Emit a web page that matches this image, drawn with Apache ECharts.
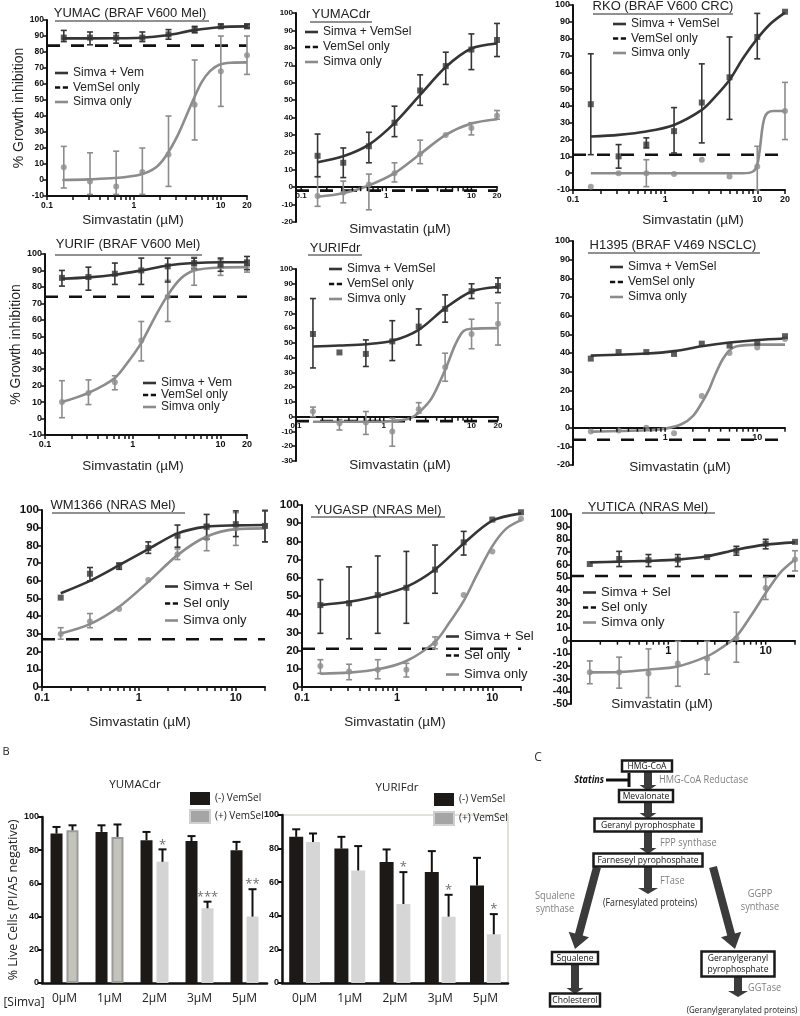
<!DOCTYPE html>
<html>
<head>
<meta charset="utf-8">
<title>Simvastatin dose response</title>
<script src="https://cdn.jsdelivr.net/npm/echarts@6.0.0/dist/echarts.min.js"></script>
<style>
  html, body { margin: 0; padding: 0; background: #fff; }
  #chart { width: 800px; height: 1016px; }
</style>
</head>
<body>
<div id="chart"></div>
<script>
const lg = Math.log10

// doses used in every dose-response panel (µM)
const doses = [0.156, 0.3125, 0.625, 1.25, 2.5, 5, 10, 20]

// points are [mean, low, high]; fits are [dose, value]
const yumacCombo = [[89, 86.5, 93.5], [89, 84.5, 92.5], [89, 85.5, 92], [89, 86.5, 92.5], [91, 88, 94], [94, 92, 96], [96, 95, 97.5], [96, 95, 97.5]]
const yumacSimva = [[8, -5, 21], [-1, -9, 17], [-4, -9, 18], [5, -9, 20], [16, -4, 40], [47, 25, 75], [68, 46, 90], [78, 66, 90]]
const yumacComboFit = [[0.15, 88.5], [0.6, 88.6], [1.2, 88.9], [2.4, 90.5], [4.8, 93.5], [9.6, 95.5], [20, 96]]
const yumacSimvaFit = [[0.15, 0], [0.3, 0.4], [0.6, 1.2], [1.2, 3.5], [1.8, 8], [2.4, 16], [3.2, 28], [4, 40], [4.8, 50], [6, 61], [7.5, 68], [9.6, 72], [13, 73.3], [20, 73.5]]
const yumacDrugOnly = 84

const yumacdrCombo = [[18, 6, 30.5], [14, 5.5, 22.5], [23.5, 14, 31.5], [37, 29, 46.5], [55.5, 47, 64.5], [69.5, 59, 77.5], [79, 67.5, 88], [84.5, 75, 94]]
const yumacdrSimva = [[-5, -11, 6], [-3, -9, 3.5], [1.5, -13, 7.5], [8, 3, 14], [19, 13.5, 27], [30, 30, 30], [34, 30, 37], [41, 39, 44]]
const yumacdrComboFit = [[0.156, 14.3], [0.3125, 17.7], [0.625, 24.4], [1.25, 36.8], [2.5, 53], [5, 69], [10, 79.6], [20, 82.5]]
const yumacdrSimvaFit = [[0.156, -5.5], [0.3125, -3.5], [0.625, 1], [1.25, 8], [2.5, 19], [5, 30], [10, 36.5], [20, 39]]
const yumacdrDrugOnly = -2

const rkoCombo = [[41, 11, 71], [10, 3, 17], [17, 15, 21], [25, 12, 39], [42, 18, 65], [57, 32, 81], [81, 68, 95], [96, 96, 96]]
const rkoSimva = [[-8, -8, -8], [0, 0, 0], [0, -8, 8], [-0.5, -0.5, -0.5], [8, 8, 8], [-2, -2, -2], [4, -10, 16], [37, 20, 54]]
const rkoComboFit = [[0.156, 21.8], [0.3125, 22.8], [0.625, 24.8], [1.25, 28.7], [2.5, 37.6], [3.5, 45.5], [5, 55.4], [7, 68.3], [10, 80], [14, 89], [20, 95.5]]
const rkoSimvaFit = [[0.156, 0], [0.5, 0], [1.5, 0], [4, 0], [7, 0], [9, 1], [10, 5], [10.7, 15], [11.3, 26], [12, 33], [13, 36], [15, 37], [20, 37]]
const rkoDrugOnly = 11

const yurifCombo = [[85.5, 80.5, 90], [86, 78, 92], [88, 81.5, 94.5], [90, 81.5, 97.5], [92.5, 83, 97.5], [94.5, 91, 97.5], [93.5, 89.5, 97.5], [94.5, 90.5, 98.5]]
const yurifSimva = [[10, 0.5, 23], [15.5, 8.5, 23.5], [22, 17.5, 26], [47.5, 35, 59], [74, 59, 84], [92, 81, 98], [92.5, 87, 96.5], [92.5, 89, 96.5]]
const yurifComboFit = [[0.156, 85], [0.3125, 85.8], [0.625, 87.4], [1.25, 90], [2.5, 93], [5, 94.5], [10, 95], [20, 95]]
const yurifSimvaFit = [[0.156, 10], [0.3125, 15.6], [0.625, 24.7], [0.9, 35], [1.25, 46], [1.8, 62], [2.5, 75], [3.5, 85], [5, 90], [10, 91.8], [20, 92]]
const yurifDrugOnly = 74

const yurifdrCombo = [[56, 33, 80], [43.5, 43.5, 43.5], [42.5, 34, 52], [51, 38, 65], [61, 48.5, 73], [73, 64, 82.5], [85, 80, 90], [88.5, 84, 94]]
const yurifdrSimva = [[3.5, 0, 6.5], [-4.5, -9, -2], [-4, -12, 3.5], [-10, -20, -1], [5, 2.5, 9.5], [33.5, 24, 43], [56, 46, 66], [63, 48.5, 77]]
const yurifdrComboFit = [[0.156, 47.5], [0.3125, 48.2], [0.625, 49], [1.25, 51.4], [2.5, 58.8], [5, 73.5], [10, 84.8], [20, 87.8]]
const yurifdrSimvaFit = [[0.156, -3.4], [0.625, -3.4], [1.25, -3], [2, -1], [2.5, 2.7], [3.5, 12.4], [5, 31.7], [6.5, 48.6], [8, 57.7], [10, 59.5], [20, 60]]
const yurifdrDrugOnly = -3

const h1395Combo = [[37, 37, 37], [40.5, 40.5, 40.5], [40.5, 40.5, 40.5], [39.5, 39.5, 39.5], [45, 45, 45], [44, 44, 44], [45.5, 45.5, 45.5], [49, 49, 49]]
const h1395Simva = [[-2, -2, -2], [-1.5, -1.5, -1.5], [0, 0, 0], [-3, -3, -3], [17, 17, 17], [40, 40, 40], [43, 43, 43], [47.5, 47.5, 47.5]]
const h1395ComboFit = [[0.156, 38.6], [0.625, 39.7], [1.25, 41], [2.5, 43.6], [5, 45.6], [10, 47], [20, 47.8]]
const h1395SimvaFit = [[0.156, -2.1], [0.625, -1.4], [1, -0.5], [1.5, 1.8], [2, 6.2], [2.5, 13.3], [3, 20.5], [3.5, 28.5], [4.2, 36.5], [5, 41.5], [6, 43.6], [10, 44.5], [20, 44.5]]
const h1395DrugOnly = -6.5

const wm1366Combo = [[50.5, 50.5, 50.5], [64, 60, 67.5], [68.5, 66.5, 70], [78.5, 75.5, 82], [85.5, 79, 91.5], [90.5, 83.5, 97.5], [92, 85, 99.5], [91, 82, 99.5]]
const wm1366Simva = [[30, 27, 33.5], [37, 33.5, 41.5], [44, 44, 44], [60.5, 60.5, 60.5], [75, 72, 78], [84, 77, 92], [89.5, 80, 98.5], [91, 82, 100]]
const wm1366ComboFit = [[0.156, 53], [0.3125, 60], [0.625, 68.8], [1.25, 77.9], [2.5, 86.8], [5, 90.6], [10, 91.3], [20, 91.5]]
const wm1366SimvaFit = [[0.156, 30.2], [0.3125, 35.5], [0.625, 45.3], [1.25, 59.4], [2.5, 74.5], [5, 85], [10, 89.2], [20, 89.6]]
const wm1366DrugOnly = 27

const yugaspCombo = [[45, 29.5, 59], [46, 26.5, 66], [50.5, 29.5, 72], [54.5, 35, 74.5], [64.5, 51.5, 78], [79.5, 72.5, 85.5], [92, 92, 92], [96, 96, 96]]
const yugaspSimva = [[11.5, 7.5, 15], [8.5, 4, 12.5], [9.5, 4.5, 15], [9.5, 5.5, 13], [24, 21, 27.5], [50.5, 50.5, 50.5], [74.5, 74.5, 74.5], [92.5, 92.5, 92.5]]
const yugaspComboFit = [[0.156, 45], [0.3125, 46.8], [0.625, 50], [1.25, 55], [2.5, 64.6], [5, 78.9], [10, 91.4], [20, 95.4]]
const yugaspSimvaFit = [[0.156, 7.3], [0.3125, 7.9], [0.625, 9.7], [1.25, 14.3], [2.5, 24.8], [3.5, 35], [5, 47.3], [7, 62.4], [10, 77.4], [14, 87], [20, 91.7]]
const yugaspDrugOnly = 21

const yuticaCombo = [[60.5, 60.5, 60.5], [64.5, 58.5, 70.5], [63.5, 58.5, 68], [64, 58.5, 68], [66, 66, 66], [71, 67.5, 74.5], [76.5, 72.5, 80], [78, 78, 78]]
const yuticaSimva = [[-25, -34, -16], [-25, -37.5, -13], [-26, -45, -6.5], [-18, -36, -0.5], [-14, -26.5, -0.5], [2, -17, 22.5], [41.5, 32.5, 50], [64, 55, 71]]
const yuticaComboFit = [[0.156, 61.8], [0.3125, 62.4], [0.625, 63], [1.25, 64], [2.5, 66.6], [5, 71.8], [10, 75.8], [20, 77.6]]
const yuticaSimvaFit = [[0.156, -25], [0.3125, -24.7], [0.625, -22.9], [1.25, -20.3], [2.5, -12.4], [3.5, -5.8], [5, 3.4], [7, 19.2], [10, 37.6], [14, 53.4], [20, 64]]
const yuticaDrugOnly = 51

// panel B: % live cells
const simvaDoses = ['0µM', '1µM', '2µM', '3µM', '5µM']
const yumacdrMinus = [90, 91, 86, 85.5, 80]
const yumacdrMinusErr = [4, 4, 5, 3, 5]
const yumacdrPlus = [92, 88, 73, 45, 40]
const yumacdrPlusErr = [3, 7.5, 7.5, 4, 16.5]
const yumacdrSig = ['', '', '*', '***', '**']
const yurifdrMinus = [87, 80, 72, 66, 58]
const yurifdrMinusErr = [4.5, 7, 7.5, 12.5, 16.5]
const yurifdrPlus = [84, 67, 47, 39.5, 29]
const yurifdrPlusErr = [5, 14.5, 19, 13, 12]
const yurifdrSig = ['', '', '*', '*', '*']

// ---------- styling ----------
const FONT = "'Liberation Sans', Arial, sans-serif"
const SANS = "'Open Sans', 'DejaVu Sans', sans-serif"
const INK = '#111'
const DARK = '#353535'
const GREY = '#8c8c8c'
const SOLID_ICON = 'path://M0,0H20V4H0Z'
const DASH_ICON = 'path://M0,0H8V4H0ZM12,0H20V4H12Z'
const NAME = 'Simvastatin (µM)'

const panels = [
  { title: 'YUMAC (BRAF V600 Mel)', t: [130, 13], ul: [55, 209, 21], rect: [47, 20, 200, 176], xMin: 0.1, yMin: -10, onZero: false,
    xLabels: [0.1, 1, 10, 20], xFont: 8.5, yFont: 8.5, xName: [133, 220], yName: '% Growth inhibition',
    names: ['Simva + Vem', 'VemSel only', 'Simva only'], leg: [55, 67, 2.5, 12],
    combo: yumacCombo, simva: yumacSimva, comboFit: yumacComboFit, simvaFit: yumacSimvaFit, drugOnly: yumacDrugOnly },
  { title: 'YUMACdr', t: [341, 14], ul: [310, 372, 22], rect: [296, 13, 201, 209], xMin: 0.087, yMin: -20, onZero: true,
    xLabels: [0.1, 1, 10, 20], xFont: 8, yFont: 8, xName: [400, 229],
    names: ['Simva + VemSel', 'VemSel only', 'Simva only'], leg: [305, 26, 3, 12],
    combo: yumacdrCombo, simva: yumacdrSimva, comboFit: yumacdrComboFit, simvaFit: yumacdrSimvaFit, drugOnly: yumacdrDrugOnly },
  { title: 'RKO (BRAF V600 CRC)', t: [663, 6], ul: [593, 733, 14], rect: [573, 5, 212, 185], xMin: 0.1, yMin: -10, onZero: false,
    xLabels: [0.1, 1, 10, 20], xFont: 9, yFont: 9, xName: [693, 220],
    names: ['Simva + VemSel', 'VemSel only', 'Simva only'], leg: [613, 18, 2.5, 12],
    combo: rkoCombo, simva: rkoSimva, comboFit: rkoComboFit, simvaFit: rkoSimvaFit, drugOnly: rkoDrugOnly },
  { title: 'YURIF (BRAF V600 Mel)', t: [128, 244], ul: [55, 202, 255], rect: [45, 254, 202, 181], xMin: 0.1, yMin: -10, onZero: false,
    xLabels: [0.1, 1, 10, 20], xFont: 9, yFont: 9, xName: [133, 466], yName: '% Growth inhibition',
    names: ['Simva + Vem', 'VemSel only', 'Simva only'], leg: [143, 377, 0, 12],
    combo: yurifCombo, simva: yurifSimva, comboFit: yurifComboFit, simvaFit: yurifSimvaFit, drugOnly: yurifDrugOnly },
  { title: 'YURIFdr', t: [335, 248], ul: [308, 362, 255], rect: [296, 269, 202, 192], xMin: 0.1, yMin: -30, onZero: true,
    xLabels: [0.1, 1, 10, 20], xFont: 8, yFont: 8, xName: [400, 465],
    names: ['Simva + VemSel', 'VemSel only', 'Simva only'], leg: [329, 263, 3, 12],
    combo: yurifdrCombo, simva: yurifdrSimva, comboFit: yurifdrComboFit, simvaFit: yurifdrSimvaFit, drugOnly: yurifdrDrugOnly },
  { title: 'H1395 (BRAF V469 NSCLC)', t: [673, 245], ul: [588, 760, 253], rect: [573, 241, 212, 224], xMin: 0.1, yMin: -20, onZero: true,
    xLabels: [1, 10], xFont: 9, yFont: 9, xName: [680, 467],
    names: ['Simva + VemSel', 'VemSel only', 'Simva only'], leg: [610, 261, 3, 12],
    combo: h1395Combo, simva: h1395Simva, comboFit: h1395ComboFit, simvaFit: h1395SimvaFit, drugOnly: h1395DrugOnly },
  { title: 'WM1366 (NRAS Mel)', t: [113, 505], ul: [52, 185, 513], rect: [42, 510, 223, 177], xMin: 0.1, yMin: 0, onZero: false,
    xLabels: [0.1, 1, 10], xFont: 11, yFont: 11.5, xName: [140, 722],
    names: ['Simva + Sel', 'Sel only', 'Simva only'], leg: [165, 580, 4, 13],
    combo: wm1366Combo, simva: wm1366Simva, comboFit: wm1366ComboFit, simvaFit: wm1366SimvaFit, drugOnly: wm1366DrugOnly },
  { title: 'YUGASP (NRAS Mel)', t: [378, 510], ul: [311, 445, 517], rect: [302, 505, 219, 182], xMin: 0.1, yMin: 0, onZero: false,
    xLabels: [0.1, 1, 10], xFont: 11, yFont: 11.5, xName: [395, 722],
    names: ['Simva + Sel', 'Sel only', 'Simva only'], leg: [446, 630, 6, 13],
    combo: yugaspCombo, simva: yugaspSimva, comboFit: yugaspComboFit, simvaFit: yugaspSimvaFit, drugOnly: yugaspDrugOnly },
  { title: 'YUTICA (NRAS Mel)', t: [648, 507], ul: [582, 715, 513], rect: [571, 514, 224, 190], xMin: 0.1, yMin: -50, onZero: true,
    xLabels: [1, 10], xFont: 11, yFont: 10.5, xName: [662, 704],
    names: ['Simva + Sel', 'Sel only', 'Simva only'], leg: [583, 586, 2, 13],
    combo: yuticaCombo, simva: yuticaSimva, comboFit: yuticaComboFit, simvaFit: yuticaSimvaFit, drugOnly: yuticaDrugOnly }
]

const barPanels = [
  { title: 'YUMACdr', t: [135, 785], rect: [42, 817, 225, 166], barW: 12, gap: '33%', off: 8, framed: false,
    yName: '% Live Cells (PI/A5 negative)', leg: [189, 792, 4],
    minus: yumacdrMinus, minusErr: yumacdrMinusErr, plus: yumacdrPlus, plusErr: yumacdrPlusErr, sig: yumacdrSig,
    plusStyle: k => (k < 2 ? { color: '#c3c3bb', borderColor: '#9a9a9a', borderWidth: 2 } : { color: '#d4d4d4' }) },
  { title: 'YURIFdr', t: [397, 788], rect: [282, 815, 226, 168], barW: 14, gap: '20%', off: 8.4, framed: true,
    yName: '', leg: [433, 793, 5],
    minus: yurifdrMinus, minusErr: yurifdrMinusErr, plus: yurifdrPlus, plusErr: yurifdrPlusErr, sig: yurifdrSig,
    plusStyle: () => ({ color: '#d6d6d6' }) }
]

const option = { animation: false, backgroundColor: '#fff', grid: [], xAxis: [], yAxis: [], series: [], legend: [], graphic: { elements: [] } }
const gfx = option.graphic.elements

function txt(x, y, text, size, extra, scaleX) {
  return { type: 'text', x, y, silent: true, scaleX: scaleX || 1,
    style: Object.assign({ text, font: size + 'px ' + FONT, fill: '#222', textAlign: 'center', textVerticalAlign: 'middle' }, extra || {}) }
}

function logTicks(xMin) {
  const t = []
  ;[0.1, 1, 10].forEach(d => {
    for (let k = 1; k <= 9; k++) {
      const v = k * d
      if (v >= xMin * 0.999 && v <= 20.001) t.push(lg(v))
    }
  })
  return t
}

function errorBars(i, pts, color) {
  return {
    type: 'custom', xAxisIndex: i, yAxisIndex: i, z: 3, silent: true,
    itemStyle: { color },
    encode: { x: 0, y: [1, 2] },
    data: doses.map((c, k) => [lg(c), pts[k][1], pts[k][2]]),
    renderItem(params, api) {
      const lo = api.value(1), hi = api.value(2)
      if (hi - lo < 0.01) return null
      const a = api.coord([api.value(0), lo]), b = api.coord([api.value(0), hi])
      const style = { stroke: color, lineWidth: 1.6 }
      return { type: 'group', children: [
        { type: 'line', shape: { x1: a[0], y1: a[1], x2: b[0], y2: b[1] }, style },
        { type: 'line', shape: { x1: a[0] - 3, y1: a[1], x2: a[0] + 3, y2: a[1] }, style },
        { type: 'line', shape: { x1: b[0] - 3, y1: b[1], x2: b[0] + 3, y2: b[1] }, style }
      ] }
    }
  }
}

// ticks and labels that sit on the zero line (for panels whose x axis crosses at y = 0)
function zeroAxisMarks(i, p) {
  return [
    { type: 'custom', xAxisIndex: i, yAxisIndex: i, silent: true, z: 6,
      data: logTicks(p.xMin).map(v => [v, 0]),
      renderItem(params, api) {
        const c = api.coord([api.value(0), 0])
        return { type: 'line', shape: { x1: c[0], y1: c[1], x2: c[0], y2: c[1] + 4 }, style: { stroke: INK, lineWidth: 1.5 } }
      } },
    { type: 'custom', xAxisIndex: i, yAxisIndex: i, silent: true, z: 6,
      data: p.xLabels.map(v => [lg(v), 0]),
      renderItem(params, api) {
        const c = api.coord([api.value(0), 0])
        return { type: 'text', x: c[0], y: c[1] + 5,
          style: { text: String(p.xLabels[params.dataIndex]), font: 'bold ' + p.xFont + 'px ' + FONT, fill: INK,
            textAlign: 'center', textVerticalAlign: 'top' } }
      } }
  ]
}

function addDosePanel(p, i) {
  const xLo = lg(p.xMin), xHi = lg(20)
  const ax = { xAxisIndex: i, yAxisIndex: i }
  option.grid.push({ left: p.rect[0], top: p.rect[1], width: p.rect[2], height: p.rect[3], outerBoundsMode: 'none' })
  option.xAxis.push({
    type: 'value', gridIndex: i, min: xLo, max: xHi,
    axisLine: { onZero: p.onZero, lineStyle: { color: INK, width: 2 } },
    axisTick: { show: !p.onZero, customValues: logTicks(p.xMin), length: 4, lineStyle: { color: INK, width: 1.5 } },
    axisLabel: { show: !p.onZero, customValues: p.xLabels.map(lg), formatter: v => String(+Math.pow(10, v).toPrecision(2)),
      fontFamily: FONT, fontWeight: 'bold', fontSize: p.xFont, color: INK, margin: 5 },
    splitLine: { show: false }
  })
  option.yAxis.push({
    type: 'value', gridIndex: i, min: p.yMin, max: 100, interval: 10,
    axisLine: { show: true, onZero: false, lineStyle: { color: INK, width: 2 } },
    axisTick: { show: true, length: 4, lineStyle: { color: INK, width: 1.5 } },
    axisLabel: { fontFamily: FONT, fontWeight: 'bold', fontSize: p.yFont, color: INK, margin: 3 },
    splitLine: { show: false },
    name: p.yName || '', nameLocation: 'middle', nameRotate: 90, nameGap: 15,
    nameTextStyle: { fontFamily: FONT, fontSize: 14, color: '#222' }
  })
  option.series.push(
    { ...ax, type: 'line', name: p.names[1], data: [[xLo, p.drugOnly], [xHi, p.drugOnly]], symbol: 'none', silent: true, z: 1,
      itemStyle: { color: INK }, lineStyle: { color: INK, width: 2.6, type: [13, 11] } },
    { ...ax, type: 'line', name: p.names[2], data: p.simvaFit.map(([c, v]) => [lg(c), v]), smooth: 0.3,
      symbol: 'none', silent: true, z: 2, itemStyle: { color: GREY }, lineStyle: { color: GREY, width: 2.6 } },
    { ...ax, type: 'line', name: p.names[0], data: p.comboFit.map(([c, v]) => [lg(c), v]), smooth: 0.3,
      symbol: 'none', silent: true, z: 2, itemStyle: { color: DARK }, lineStyle: { color: DARK, width: 2.6 } },
    errorBars(i, p.simva, GREY),
    errorBars(i, p.combo, DARK),
    { ...ax, type: 'scatter', symbol: 'circle', symbolSize: 6, silent: true, z: 4, itemStyle: { color: GREY },
      data: doses.map((c, k) => [lg(c), p.simva[k][0]]) },
    { ...ax, type: 'scatter', symbol: 'rect', symbolSize: 6, silent: true, z: 5, itemStyle: { color: DARK },
      data: doses.map((c, k) => [lg(c), p.combo[k][0]]) }
  )
  if (p.onZero) option.series.push(...zeroAxisMarks(i, p))
  option.legend.push({
    orient: 'vertical', left: p.leg[0], top: p.leg[1], itemGap: p.leg[2], itemWidth: 13, itemHeight: 3,
    selectedMode: false, padding: 0,
    textStyle: { fontFamily: FONT, fontSize: p.leg[3], color: '#222' },
    data: [{ name: p.names[0], icon: SOLID_ICON }, { name: p.names[1], icon: DASH_ICON }, { name: p.names[2], icon: SOLID_ICON }]
  })
  gfx.push(txt(p.t[0], p.t[1], p.title, 13))
  gfx.push(txt(p.xName[0], p.xName[1], NAME, 13.5))
  gfx.push({ type: 'line', silent: true, shape: { x1: p.ul[0], y1: p.ul[2], x2: p.ul[1], y2: p.ul[2] }, style: { stroke: '#222', lineWidth: 1 } })
}

function barErrors(i, means, errs, dx, sig) {
  return {
    type: 'custom', xAxisIndex: i, yAxisIndex: i, z: 5, silent: true,
    encode: { x: 0, y: [1, 2] },
    data: means.map((m, k) => [k, m, m + errs[k]]),
    renderItem(params, api) {
      const a = api.coord([api.value(0), api.value(1)])
      const b = api.coord([api.value(0), api.value(2)])
      const x = a[0] + dx
      const st = { stroke: INK, lineWidth: 2 }
      const kids = [
        { type: 'line', shape: { x1: x, y1: a[1], x2: x, y2: b[1] }, style: st },
        { type: 'line', shape: { x1: x - 4, y1: b[1], x2: x + 4, y2: b[1] }, style: st }
      ]
      const s = sig && sig[params.dataIndex]
      if (s) {
        kids.push({ type: 'text', x, y: b[1] + 2, style: { text: s, textAlign: 'center', textVerticalAlign: 'bottom',
          font: '13px ' + SANS, fill: '#6f6f6f' } })
      }
      return { type: 'group', children: kids }
    }
  }
}

function addBarPanel(b, i) {
  option.grid.push({ left: b.rect[0], top: b.rect[1], width: b.rect[2], height: b.rect[3], outerBoundsMode: 'none',
    show: b.framed, borderColor: '#c6c3b0', borderWidth: 1, backgroundColor: 'transparent' })
  option.xAxis.push({
    type: 'category', gridIndex: i, data: simvaDoses,
    axisLine: { lineStyle: { color: INK, width: 2.5 } },
    axisTick: { alignWithLabel: true, length: 5, lineStyle: { color: INK, width: 2.5 } },
    axisLabel: { fontFamily: SANS, fontSize: 12, color: '#222', margin: 10 }
  })
  option.yAxis.push({
    type: 'value', gridIndex: i, min: 0, max: 100, interval: 20,
    axisLine: { show: true, lineStyle: { color: INK, width: 2.5 } },
    axisTick: { show: true, length: 4, lineStyle: { color: INK, width: 2 } },
    axisLabel: { fontFamily: FONT, fontWeight: 'bold', fontSize: 9, color: INK, margin: 3 },
    splitLine: { show: false },
    name: b.yName, nameLocation: 'middle', nameRotate: 90, nameGap: 21,
    nameTextStyle: { fontFamily: SANS, fontSize: 12.5, color: '#222' }
  })
  option.series.push(
    { type: 'bar', name: '(-) VemSel', xAxisIndex: i, yAxisIndex: i, data: b.minus, barWidth: b.barW, barGap: b.gap,
      itemStyle: { color: '#1c1916' }, silent: true },
    { type: 'bar', name: '(+) VemSel', xAxisIndex: i, yAxisIndex: i, barWidth: b.barW, barGap: b.gap,
      data: b.plus.map((v, k) => ({ value: v, itemStyle: b.plusStyle(k) })), itemStyle: { color: '#d5d5d5' }, silent: true },
    barErrors(i, b.minus, b.minusErr, -b.off, null),
    barErrors(i, b.plus, b.plusErr, b.off, b.sig)
  )
  option.legend.push({
    orient: 'vertical', left: b.leg[0], top: b.leg[1], itemGap: b.leg[2], itemWidth: 20, itemHeight: 13,
    selectedMode: false, padding: 0,
    textStyle: { fontFamily: SANS, fontSize: 10, color: '#222' },
    data: [
      { name: '(-) VemSel', icon: 'rect', itemStyle: { color: '#1c1916' } },
      { name: '(+) VemSel', icon: 'rect', itemStyle: { color: '#a5a5a5', borderColor: '#d0d0d0', borderWidth: 2 } }
    ]
  })
  gfx.push(txt(b.t[0], b.t[1], b.title, 11.5, { font: '11.5px ' + SANS }))
}

panels.forEach(addDosePanel)
barPanels.forEach((b, k) => addBarPanel(b, panels.length + k))

gfx.push(txt(6, 752, 'B', 11, { font: '11px ' + SANS }))
gfx.push(txt(24, 1003, '[Simva]', 12, { font: '12px ' + SANS }))

// ---------- panel C: mevalonate pathway ----------
function arrow(x1, y1, x2, y2, sw, hw, hl) {
  const L = Math.hypot(x2 - x1, y2 - y1), ux = (x2 - x1) / L, uy = (y2 - y1) / L, px = -uy, py = ux
  const bx = x2 - ux * hl, by = y2 - uy * hl
  const pts = [
    [x1 + px * sw / 2, y1 + py * sw / 2], [bx + px * sw / 2, by + py * sw / 2], [bx + px * hw / 2, by + py * hw / 2],
    [x2, y2], [bx - px * hw / 2, by - py * hw / 2], [bx - px * sw / 2, by - py * sw / 2], [x1 - px * sw / 2, y1 - py * sw / 2]
  ]
  return { type: 'polygon', silent: true, shape: { points: pts }, style: { fill: '#3b3b3b' } }
}
function box(cx, cy, w, h, text) {
  return [
    { type: 'rect', silent: true, z: 10, shape: { x: cx - w / 2, y: cy - h / 2, width: w, height: h },
      style: { fill: '#fff', stroke: '#1a1a1a', lineWidth: 2.5 } },
    { type: 'text', silent: true, z: 11, x: cx, y: cy, scaleX: 0.9,
      style: { text, font: '9.5px ' + SANS, fill: '#111', textAlign: 'center', textVerticalAlign: 'middle', lineHeight: 11 } }
  ]
}
const greyLabel = (size, align) => ({ font: size + 'px ' + SANS, fill: '#808080', textAlign: align || 'center', lineHeight: 13 })

gfx.push(
  arrow(648, 770, 648, 791, 8, 17, 6),
  arrow(648, 801, 648, 819, 8, 17, 6),
  arrow(648, 831, 648, 854, 8, 17, 6),
  arrow(648, 866, 648, 894, 8, 20, 6),
  arrow(597, 867, 575, 949, 8, 21, 15),
  arrow(713, 867, 735, 949, 8, 21, 15),
  arrow(575, 963, 575, 994, 8, 17, 6),
  arrow(738, 976, 738, 997, 8, 20, 6),
  ...box(647, 766, 50, 11, 'HMG-CoA'),
  ...box(646, 796, 54, 12, 'Mevalonate'),
  ...box(648, 825, 107, 13, 'Geranyl pyrophosphate'),
  ...box(648, 860, 109, 13, 'Farneseyl pyrophosphate'),
  ...box(575, 958, 46, 12, 'Squalene'),
  ...box(575, 1000, 50, 13, 'Cholesterol'),
  ...box(738, 964, 73, 25, 'Geranylgeranyl\npyrophosphate'),
  txt(538, 758, 'C', 12, { font: '12px ' + SANS, fill: '#333' }),
  txt(604, 780, 'Statins', 10, { font: 'italic bold 10px ' + SANS, fill: '#111', textAlign: 'right' }, 0.9),
  { type: 'line', silent: true, shape: { x1: 606, y1: 780, x2: 628, y2: 780 }, style: { stroke: '#111', lineWidth: 3 } },
  { type: 'line', silent: true, shape: { x1: 629, y1: 773, x2: 629, y2: 787 }, style: { stroke: '#111', lineWidth: 3 } },
  txt(659, 780, 'HMG-CoA Reductase', 10, greyLabel(10.5, 'left'), 0.88),
  txt(660, 843, 'FPP synthase', 10, greyLabel(10.5, 'left'), 0.88),
  txt(660, 881, 'FTase', 10, greyLabel(10.5, 'left'), 0.88),
  txt(650, 903, '(Farnesylated proteins)', 10, { font: '10px ' + SANS, fill: '#222' }, 0.88),
  txt(555, 903, 'Squalene\nsynthase', 10, greyLabel(10.5), 0.88),
  txt(760, 901, 'GGPP\nsynthase', 10, greyLabel(10.5), 0.88),
  txt(748, 988, 'GGTase', 10, greyLabel(10.5, 'left'), 0.88),
  txt(742, 1010, '(Geranylgeranylated proteins)', 9.5, { font: '9.5px ' + SANS, fill: '#222' }, 0.84)
)

const chart = echarts.init(document.getElementById('chart'), null, { renderer: 'canvas' })
chart.setOption(option)
</script>
</body>
</html>
